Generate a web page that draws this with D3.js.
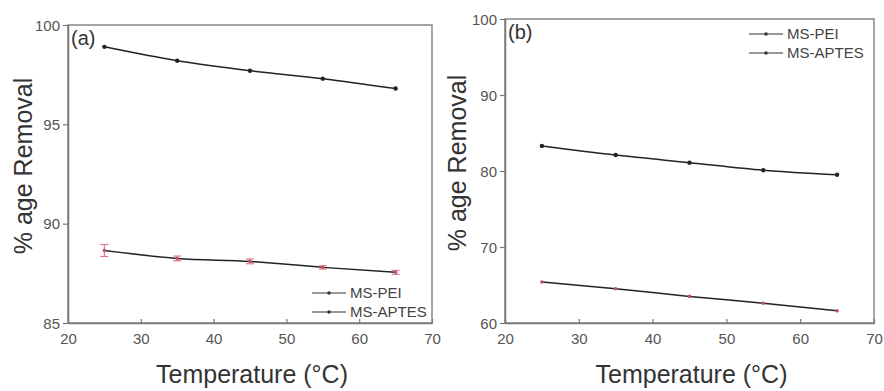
<!DOCTYPE html>
<html lang="en">
<head>
<meta charset="UTF-8">
<title>% age Removal vs Temperature</title>
<style>
	body{margin:0;background:#fff;}
	text{font-family:"Liberation Sans",Arial,sans-serif;}
	.tick text{fill:#555;font-size:15px;}
	.title{fill:#333;font-size:25px;}
	.legend{fill:#444;font-size:15px;}
</style>
</head>
<body>
<svg id="chart" width="884" height="391"></svg>
<script src="https://d3js.org/d3.v7.min.js"></script>
<script>
	var temps = [25, 35, 45, 55, 65];
	var xTicks = [20, 30, 40, 50, 60, 70];

	// panel (a)
	var peiA = [98.9, 98.2, 97.7, 97.3, 96.8];
	var aptesA = [88.65, 88.25, 88.1, 87.8, 87.55];
	var aptesErrA = [0.3, 0.12, 0.12, 0.08, 0.1];
	var yTicksA = [85, 90, 95, 100];

	// panel (b)
	var peiB = [83.3, 82.1, 81.1, 80.1, 79.5];
	var aptesB = [65.4, 64.5, 63.5, 62.6, 61.6];
	var yTicksB = [60, 70, 80, 90, 100];

	var svg = d3.select('#chart');

	function panel(opt){
		var x = d3.scaleLinear().domain([20, 70]).range([opt.left, opt.right]);
		var y = d3.scaleLinear().domain(opt.yDomain).range([opt.bottom, opt.top]);
		var g = svg.append('g');

		// frame
		g.append('rect')
			.attr('x', opt.left).attr('y', opt.top)
			.attr('width', opt.right - opt.left).attr('height', opt.bottom - opt.top)
			.attr('fill', 'none').attr('stroke', '#888').attr('stroke-width', 1.5);

		var xa = g.append('g')
			.attr('transform', 'translate(0,' + opt.bottom + ')')
			.call(d3.axisBottom(x).tickValues(xTicks).tickSizeInner(-4).tickSizeOuter(0).tickPadding(10));
		var ya = g.append('g')
			.attr('transform', 'translate(' + opt.left + ',0)')
			.call(d3.axisLeft(y).tickValues(opt.yTicks).tickSizeInner(5).tickSizeOuter(0).tickPadding(3));
		[xa, ya].forEach(function(a){
			a.select('.domain').attr('stroke', '#777').attr('stroke-width', 1.5);
			a.selectAll('.tick line').attr('stroke', '#777').attr('stroke-width', 1.2);
		});
		ya.selectAll('.tick text').attr('dy', '0.35em');

		var line = d3.line()
			.x(function(d){ return x(d[0]); })
			.y(function(d){ return y(d[1]); })
			.curve(d3.curveMonotoneX);

		opt.series.forEach(function(s){
			var pts = temps.map(function(t, i){ return [t, s.values[i], s.err ? s.err[i] : 0]; });
			g.append('path').datum(pts)
				.attr('d', line).attr('fill', 'none')
				.attr('stroke', '#222').attr('stroke-width', 1.5);
			if (s.err) {
				var eb = g.selectAll(null).data(pts).enter().append('g');
				eb.append('line')
					.attr('x1', function(d){ return x(d[0]); })
					.attr('x2', function(d){ return x(d[0]); })
					.attr('y1', function(d){ return y(d[1] - d[2]); })
					.attr('y2', function(d){ return y(d[1] + d[2]); })
					.attr('stroke', '#e07a8a').attr('stroke-width', 1.2);
				['-', '+'].forEach(function(sg){
					eb.append('line')
						.attr('x1', function(d){ return x(d[0]) - 4; })
						.attr('x2', function(d){ return x(d[0]) + 4; })
						.attr('y1', function(d){ return y(sg === '+' ? d[1] + d[2] : d[1] - d[2]); })
						.attr('y2', function(d){ return y(sg === '+' ? d[1] + d[2] : d[1] - d[2]); })
						.attr('stroke', '#e07a8a').attr('stroke-width', 1.2);
				});
			}
			g.selectAll(null).data(pts).enter().append('circle')
				.attr('cx', function(d){ return x(d[0]); })
				.attr('cy', function(d){ return y(d[1]); })
				.attr('r', s.color === '#222' ? 2.2 : 1.8)
				.attr('fill', s.color);
		});

		// legend
		opt.series.forEach(function(s, i){
			var ly = opt.legY + i * 19;
			g.append('line')
				.attr('x1', opt.legX).attr('x2', opt.legX + 34)
				.attr('y1', ly).attr('y2', ly)
				.attr('stroke', '#333').attr('stroke-width', 1.2);
			g.append('circle').attr('cx', opt.legX + 17).attr('cy', ly).attr('r', 1.8).attr('fill', '#333');
			g.append('text').attr('class', 'legend')
				.attr('x', opt.legX + 38).attr('y', ly + 5).text(s.name);
		});

		g.append('text').attr('class', 'title')
			.attr('x', opt.left + 3).attr('y', opt.top + 20)
			.style('font-size', '20px').text(opt.label);

		g.append('text').attr('class', 'title')
			.attr('text-anchor', 'middle')
			.attr('transform', 'translate(' + opt.yTitleX + ',' + ((opt.top + opt.bottom) / 2 - 8) + ') rotate(-90)')
			.text('% age Removal');
		g.append('text').attr('class', 'title')
			.attr('text-anchor', 'middle')
			.attr('x', (opt.left + opt.right) / 2 + 2).attr('y', 383)
			.text('Temperature (\u00B0C)');
	}

	panel({
		left: 68, right: 432, top: 25, bottom: 323,
		yDomain: [85, 100], yTicks: yTicksA,
		yTitleX: 32, label: '(a)', legX: 312, legY: 293,
		series: [
			{name: 'MS-PEI', values: peiA, color: '#222'},
			{name: 'MS-APTES', values: aptesA, err: aptesErrA, color: '#c0506a'}
		]
	});
	panel({
		left: 505, right: 874, top: 19, bottom: 323,
		yDomain: [60, 100], yTicks: yTicksB,
		yTitleX: 466, label: '(b)', legX: 749, legY: 34,
		series: [
			{name: 'MS-PEI', values: peiB, color: '#222'},
			{name: 'MS-APTES', values: aptesB, color: '#c0506a'}
		]
	});
</script>
</body>
</html>
